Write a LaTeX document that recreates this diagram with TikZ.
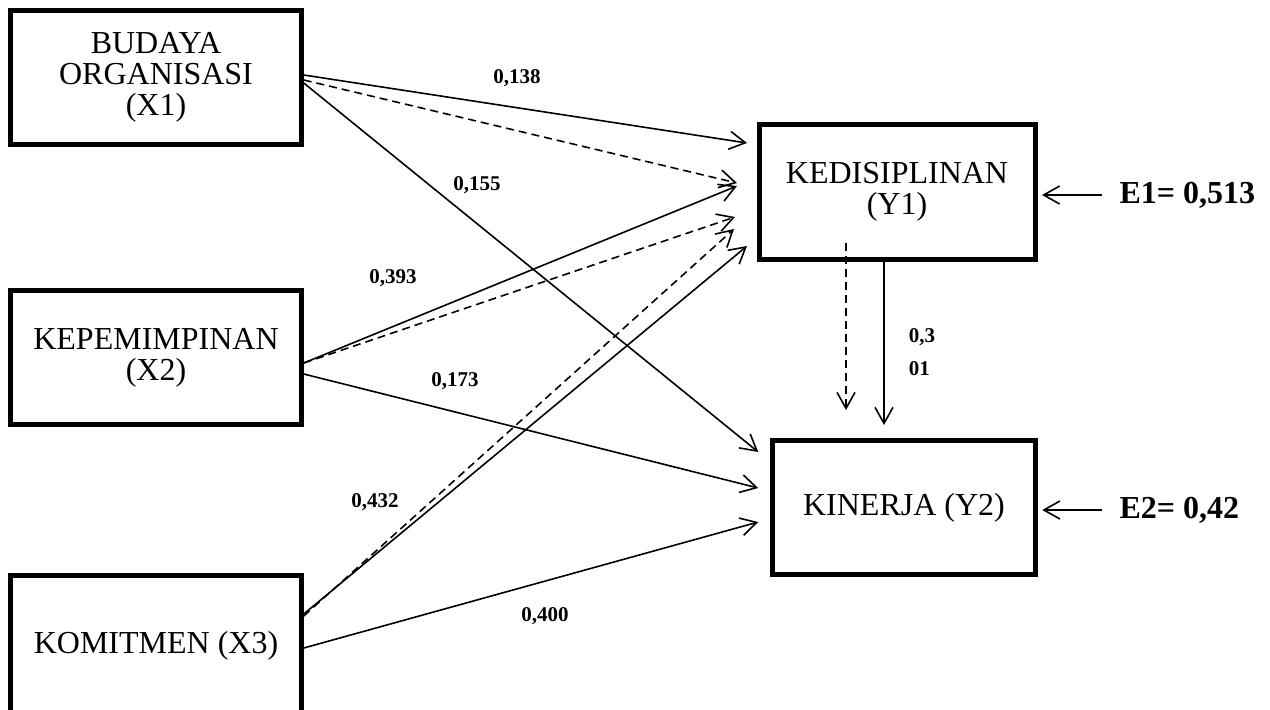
\documentclass[tikz,border=0pt]{standalone}
\usepackage{fontspec}
\setmainfont{Liberation Serif}
\usetikzlibrary{arrows.meta,calc}

\tikzset{
  var/.style={draw,line width=5pt,align=center,inner sep=0pt,
    font=\fontsize{32}{31}\selectfont},
  link/.style={line width=1.6pt,-{Straight Barb[length=16pt,width=18pt]}},
  dlink/.style={link,dash pattern=on 8pt off 5pt},
  coef/.style={font=\fontsize{21}{33}\selectfont\bfseries},
  err/.style={anchor=west,font=\fontsize{32}{31}\selectfont\bfseries}
}

\begin{document}
\begin{tikzpicture}[x=1pt,y=-1pt]
  \useasboundingbox (0,0) rectangle (1270,710);

  % variables
  \node[var,minimum width=290.5pt,minimum height=134pt] (x1) at (156,77)
    {BUDAYA\\ORGANISASI\\(X1)};
  \node[var,minimum width=290.5pt,minimum height=134pt] (x2) at (156,357.5)
    {KEPEMIMPINAN\\(X2)};
  \node[var,minimum width=290.5pt,minimum height=140pt] (x3) at (156,645.5)
    {KOMITMEN (X3)};
  \node[var,minimum width=276pt,minimum height=134.5pt] (y1) at (897,192)
    {KEDISIPLINAN\\(Y1)};
  \node[var,minimum width=262.5pt,minimum height=134pt] (y2) at (904,507.5)
    {KINERJA (Y2)};

  % errors
  \node[err] (e1) at (1116,195) {E1= 0,513};
  \node[err] (e2) at (1116,510) {E2= 0,42};

  % paths
  \draw[link]  ($(x1.east)+(0,-2)$) -- ($(y1.west)+(-9.5,-49)$);
  \draw[dlink] ($(x1.east)+(0,3)$)  -- ($(y1.west)+(-19.5,-9)$);
  \draw[link]  ($(x1.east)+(0,6)$)  -- ($(y2.west)+(-12,-55.5)$);
  \draw[link]  ($(x2.east)+(0,5.5)$)  -- ($(y1.west)+(-19.5,-6)$);
  \draw[dlink] ($(x2.east)+(0,5.5)$)  -- ($(y1.west)+(-21.5,25)$);
  \draw[link]  ($(x2.east)+(0,16.5)$) -- ($(y2.west)+(-12,-19.5)$);
  \draw[dlink] ($(x3.east)+(0,-29.5)$) -- ($(y1.west)+(-22.5,37)$);
  \draw[link]  ($(x3.east)+(0,-31.5)$) -- ($(y1.west)+(-9.5,54)$);
  \draw[link]  ($(x3.east)+(0,2.5)$)  -- ($(y2.west)+(-12,14.5)$);
  \draw[dlink] ($(y1.south)+(-51,-18.5)$) -- ($(y2.north)+(-58,-28)$);
  \draw[link]  ($(y1.south)+(-13,0)$) -- ($(y2.north)+(-20,-13)$);
  \draw[link]  ($(e1.west)+(-14,0)$) -- ($(y1.east)+(4.5,3)$);
  \draw[link]  ($(e2.west)+(-14,0)$) -- ($(y2.east)+(4.5,2.5)$);

  % coefficients
  \node[coef] (c1) at (517,78)  {0,138};
  \node[coef] (c2) at (477,185) {0,155};
  \node[coef] (c3) at (393,278) {0,393};
  \node[coef] (c4) at (455,381) {0,173};
  \node[coef] (c5) at (375,502) {0,432};
  \node[coef] (c6) at (545,616) {0,400};
  \node[coef,align=left] (c7) at (922,352) {0,3\\01};
\end{tikzpicture}
\end{document}
